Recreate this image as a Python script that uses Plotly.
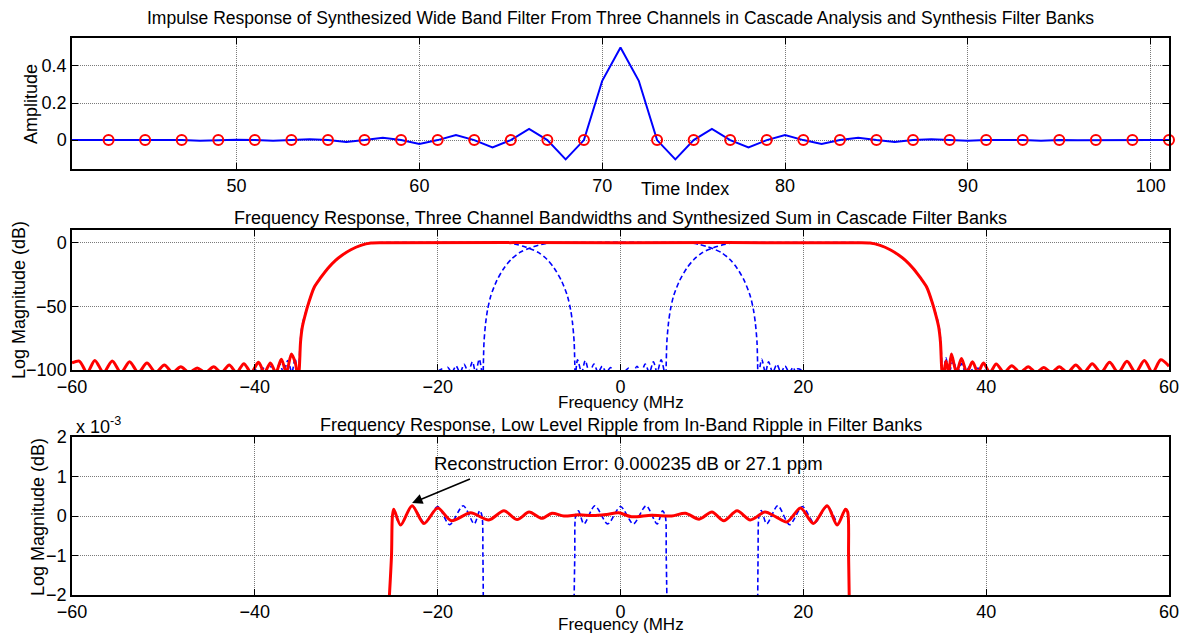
import plotly.graph_objects as go

# ---------------- data ----------------
time_index = list(range(41, 102))
impulse = [
    0.000, 0.000, 0.000, 0.001, 0.000, -0.001, 0.000, -0.004, 0.000, 0.002,   # 41-50
    0.000, -0.004, 0.000, 0.005, 0.000, -0.010, 0.000, 0.013, 0.000, -0.021,  # 51-60
    0.000, 0.027, 0.000, -0.040, 0.000, 0.060, 0.000, -0.104, 0.000, 0.320,   # 61-70
    0.500,                                                                     # 71
    0.320, 0.000, -0.104, 0.000, 0.060, 0.000, -0.040, 0.000, 0.027, 0.000,   # 72-81
    -0.021, 0.000, 0.013, 0.000, -0.010, 0.000, 0.005, 0.000, -0.004, 0.000,  # 82-91
    0.002, 0.000, -0.004, 0.000, -0.001, 0.000, 0.001, 0.000, 0.000, 0.000,   # 92-101
]
zero_marks_idx = [i for i in time_index if i % 2 == 1 and i >= 43 and i != 71]

# synthesized sum (red), middle panel
sum_freq = [
    -60.0, -59.2, -58.35, -57.5, -56.55, -55.6, -54.65, -53.7, -52.75, -51.8, -50.85, -49.9,
    -49.0, -48.1, -47.2, -46.3, -45.4, -44.5, -43.65, -42.8, -42.0, -41.2, -40.4, -39.6,
    -38.95, -38.3, -37.7, -37.1, -36.55, -36.0, -35.55, -35.3,
    -35.15, -35.0, -34.8, -34.5, -34.1, -33.5, -32.8, -32.0, -31.2, -30.5, -29.5, -28.4, -27.3, -26.0,
    0.0,
    26.0, 27.3, 28.4, 29.5, 30.5, 31.2, 32.0, 32.8, 33.5, 34.1, 34.5, 34.8, 35.0, 35.15,
    35.3, 35.6, 35.9, 36.2, 36.75, 37.3, 37.9, 38.5, 39.1, 39.7, 40.4, 41.1, 41.95, 42.8,
    43.7, 44.6, 45.45, 46.3, 47.15, 48.0, 48.9, 49.8, 50.7, 51.6, 52.55, 53.5, 54.45, 55.4,
    56.35, 57.3, 58.2, 59.1, 60.0,
]
sum_db = [
    -94.5, -93.0, -102, -92.5, -102, -93.0, -102, -93.5, -102, -94.5, -102, -96.0,
    -102, -97.5, -102, -98.5, -102, -97.5, -102, -96.0, -102, -95.0, -102, -94.0,
    -102, -94.5, -102, -91.5, -102, -87.5, -95.0, -106,
    -100, -78, -66, -57, -47, -35, -27.5, -20, -14, -10, -5.5, -2.1, -0.3, 0.0,
    0.0,
    0.0, -0.3, -2.1, -5.5, -10, -14, -20, -27.5, -35, -47, -57, -66, -78, -100,
    -106, -93.0, -102, -87.5, -102, -91.0, -102, -93.5, -102, -94.5, -102, -95.3, -102, -96.6,
    -102, -97.4, -102, -98.0, -102, -97.4, -102, -96.0, -102, -95.0, -102, -94.0, -102, -93.2,
    -102, -92.6, -102, -92.0, -97.0,
]

# channel A (centre -20 MHz)
chA_freq = [
    -40.0, -39.55, -39.1, -38.65, -38.2, -37.75, -37.3, -36.85, -36.4, -35.95, -35.6, -35.3,
    -35.15, -35.05, -34.85, -34.5, -34.1, -33.5, -32.8, -32.0, -31.2, -30.5, -29.5, -28.4, -27.3, -26.5,
    -12.95, -12.05, -11.35, -10.55, -9.95, -8.95, -8.05, -7.25, -6.45, -5.8, -5.45, -5.25, -5.07, -5.0, -4.95,
    -4.7, -4.25, -3.86, -3.4, -2.9, -2.45, -2.0, -1.55, -1.1, -0.7, -0.5,
]
chA_db = [
    -99.0, -102, -98.5, -102, -97.0, -102, -95.0, -102, -92.5, -102, -90.5, -106,
    -95, -80, -66, -56, -47, -35, -27.5, -20, -14, -10, -5.5, -2.1, -0.3, 0.0,
    0.0, -0.4, -1.4, -3.0, -4.5, -7.8, -13, -20, -30, -42, -53, -63, -78, -95, -106,
    -92.0, -102, -92.6, -102, -95.3, -102, -97.0, -102, -98.0, -102, -101,
]

# channel B (centre 0 MHz)
chB_freq = [
    -20.0, -19.4, -19.15, -18.9, -18.45, -18.0, -17.55, -17.1, -16.65, -16.2, -15.85, -15.45, -15.05,
    -15.0, -14.93, -14.75, -14.55, -14.2, -13.55, -12.75, -11.95, -11.05, -10.05, -9.45, -8.65, -7.95, -7.05,
    7.05, 7.95, 8.65, 9.45, 10.05, 11.05, 11.95, 12.75, 13.55, 14.2, 14.55, 14.75, 14.93, 15.0,
    15.05, 15.45, 15.85, 16.2, 16.65, 17.1, 17.55, 18.0, 18.45, 18.9, 19.15, 19.4, 20.0,
]
chB_db = [
    -101, -99.0, -102, -97.8, -102, -96.8, -102, -95.5, -102, -93.5, -102, -91.5, -106,
    -95, -78, -63, -53, -42, -30, -20, -13, -7.8, -4.5, -3.0, -1.4, -0.4, 0.0,
    0.0, -0.4, -1.4, -3.0, -4.5, -7.8, -13, -20, -30, -42, -53, -63, -78, -95,
    -106, -91.5, -102, -93.5, -102, -95.5, -102, -96.8, -102, -97.8, -102, -99.0, -101,
]

# channel C (centre +20 MHz)
chC_freq = [
    0.5, 0.9, 1.35, 1.8, 2.25, 2.7, 3.15, 3.6, 4.0, 4.45, 4.95,
    5.0, 5.07, 5.25, 5.45, 5.8, 6.45, 7.25, 8.05, 8.95, 9.95, 10.55, 11.35, 12.05, 12.95,
    26.5, 27.3, 28.4, 29.5, 30.5, 31.2, 32.0, 32.8, 33.5, 34.1, 34.5, 34.85, 35.05, 35.15, 35.3,
    35.6, 35.95, 36.4, 36.85, 37.3, 37.75, 38.2, 38.65, 39.1, 39.55, 40.0,
]
chC_db = [
    -101, -98.5, -102, -97.0, -102, -95.3, -102, -93.5, -102, -92.0, -106,
    -95, -78, -63, -53, -42, -30, -20, -13, -7.8, -4.5, -3.0, -1.4, -0.4, 0.0,
    0.0, -0.3, -2.1, -5.5, -10, -14, -20, -27.5, -35, -47, -56, -66, -80, -95, -106,
    -90.5, -102, -92.5, -102, -95.0, -102, -97.0, -102, -98.5, -102, -99.0,
]

# bottom panel: ripple (units of 1e-3 dB)
ripple_freq = [
    -25.4, -25.05, -24.95, -24.8, -24.05, -22.8, -21.5, -20.0, -18.5, -16.4, -14.4, -12.75,
    -11.3, -10.0, -8.6, -7.5, -6.2, -4.6, -3.0, -1.5, -0.2, 1.2, 3.4, 5.6, 7.1, 8.6, 10.0,
    11.3, 12.75, 14.2, 15.8, 17.0, 18.2, 19.7, 21.1, 22.6, 23.7, 24.6, 24.85, 24.95, 25.05,
]
ripple_sum = [
    -2.5, -1.0, 0.0, 0.17, -0.23, 0.26, -0.19, 0.20, -0.12, 0.08, -0.10, 0.13,
    -0.09, 0.10, -0.06, 0.07, 0.00, 0.03, 0.01, 0.04, 0.08, -0.02, 0.02, 0.00, 0.07, -0.08, 0.10,
    -0.12, 0.13, -0.10, 0.10, -0.02, -0.15, 0.20, -0.19, 0.26, -0.23, 0.17, 0.10, -1.0, -2.5,
]
ripple_ch1_freq = [-24.8, -24.05, -22.8, -21.4, -20.0, -18.7, -17.2, -16.0, -15.4, -15.15, -15.05, -15.0]
ripple_ch1 = [0.17, -0.23, 0.26, -0.18, 0.24, -0.22, 0.26, -0.20, 0.14, 0.0, -1.0, -2.5]
ripple_ch2_freq = [-5.1, -5.0, -4.9, -4.6, -4.0, -2.8, -1.4, 0.0, 1.4, 2.8, 4.0, 4.6, 4.9, 5.0, 5.1]
ripple_ch2 = [-2.5, -1.0, 0.0, 0.13, -0.20, 0.26, -0.20, 0.24, -0.20, 0.26, -0.20, 0.13, 0.0, -1.0, -2.5]
ripple_ch3_freq = [15.0, 15.05, 15.15, 15.4, 16.0, 17.2, 18.5, 19.9, 21.2, 22.6, 23.7]
ripple_ch3 = [-2.5, -1.0, 0.0, 0.14, -0.20, 0.26, -0.22, 0.24, -0.18, 0.24, -0.20]

freq_ticks = [-60, -40, -20, 0, 20, 40, 60]
time_ticks = [50, 60, 70, 80, 90, 100]

# ---------------- layout helpers ----------------
W, H = 1186, 634
FONT = "Liberation Sans, Arial, sans-serif"
RED = "#ff0000"
BLUE = "#0000ff"
DASH = "5px,3px"


def px(p):
    return p / W


def py(p):
    return 1 - p / H


X0, X1 = 72, 1169
panels = {
    "top": (38, 169),
    "mid": (230, 370),
    "bot": (437, 595),
}

fig = go.Figure()

# top panel
fig.add_trace(go.Scatter(x=time_index, y=impulse, mode="lines",
                         line=dict(color=BLUE, width=2), xaxis="x", yaxis="y",
                         showlegend=False, hoverinfo="skip"))
fig.add_trace(go.Scatter(x=zero_marks_idx,
                         y=[impulse[time_index.index(i)] for i in zero_marks_idx],
                         mode="markers",
                         marker=dict(symbol="circle-open", size=10, color=RED,
                                     line=dict(width=2, color=RED)),
                         xaxis="x", yaxis="y", showlegend=False, hoverinfo="skip",
                         cliponaxis=False))

# middle panel
for fx, fy in [(chA_freq, chA_db), (chB_freq, chB_db), (chC_freq, chC_db)]:
    fig.add_trace(go.Scatter(x=fx, y=fy, mode="lines",
                             line=dict(color=BLUE, width=1.6, dash=DASH, shape="spline", smoothing=0.8),
                             xaxis="x2", yaxis="y2", showlegend=False, hoverinfo="skip"))
fig.add_trace(go.Scatter(x=sum_freq, y=sum_db, mode="lines",
                         line=dict(color=RED, width=3, shape="spline", smoothing=0.8),
                         xaxis="x2", yaxis="y2", showlegend=False, hoverinfo="skip"))

# bottom panel
for fx, fy in [(ripple_ch1_freq, ripple_ch1), (ripple_ch2_freq, ripple_ch2), (ripple_ch3_freq, ripple_ch3)]:
    fig.add_trace(go.Scatter(x=fx, y=fy, mode="lines",
                             line=dict(color=BLUE, width=1.6, dash=DASH, shape="spline", smoothing=0.8),
                             xaxis="x3", yaxis="y3", showlegend=False, hoverinfo="skip"))
fig.add_trace(go.Scatter(x=ripple_freq, y=ripple_sum, mode="lines",
                         line=dict(color=RED, width=3, shape="spline", smoothing=0.8),
                         xaxis="x3", yaxis="y3", showlegend=False, hoverinfo="skip"))

axis_common = dict(
    showline=True, linecolor="black", linewidth=1.5, mirror="ticks",
    ticks="inside", ticklen=6, tickcolor="black", tickwidth=1,
    showgrid=True, gridcolor="#7a7a7a", gridwidth=1, griddash="1px,1px",
    zeroline=False, automargin=False,
    tickfont=dict(family=FONT, size=18, color="black"),
)


def ydom(key):
    t, b = panels[key]
    return [py(b), py(t)]


layout = dict(
    width=W, height=H,
    margin=dict(l=0, r=0, t=0, b=0),
    paper_bgcolor="white", plot_bgcolor="white",
    font=dict(family=FONT, size=18, color="black"),
    showlegend=False,
    xaxis=dict(axis_common, domain=[px(X0), px(X1)], anchor="y", range=[41, 101],
               tickvals=time_ticks),
    yaxis=dict(axis_common, domain=ydom("top"), anchor="x", range=[-0.156, 0.551],
               tickvals=[0, 0.2, 0.4], ticktext=["0", "0.2", "0.4"]),
    xaxis2=dict(axis_common, domain=[px(X0), px(X1)], anchor="y2", range=[-60, 60],
                tickvals=freq_ticks),
    yaxis2=dict(axis_common, domain=ydom("mid"), anchor="x2", range=[-100, 10],
                tickvals=[-100, -50, 0]),
    xaxis3=dict(axis_common, domain=[px(X0), px(X1)], anchor="y3", range=[-60, 60],
                tickvals=freq_ticks),
    yaxis3=dict(axis_common, domain=ydom("bot"), anchor="x3", range=[-2, 2],
                tickvals=[-2, -1, 0, 1, 2]),
)
fig.update_layout(**layout)

cx = px((X0 + X1) / 2)
ann = []


def text(x, y, s, size=18, angle=0, xanchor="center"):
    ann.append(dict(x=x, y=y, xref="paper", yref="paper", text=s, showarrow=False,
                    font=dict(family=FONT, size=size, color="black"), textangle=angle,
                    xanchor=xanchor, yanchor="middle"))


text(cx, py(18), "Impulse Response of Synthesized Wide Band Filter From Three Channels in Cascade Analysis and Synthesis Filter Banks", size=17.5)
text(cx, py(218), "Frequency Response, Three Channel Bandwidths and Synthesized Sum in Cascade Filter Banks", size=18)
text(cx, py(425), "Frequency Response, Low Level Ripple from In-Band Ripple in Filter Banks", size=18)
text(px(685), py(189), "Time Index")
text(cx, py(402), "Frequency (MHz", size=17)
text(cx, py(624), "Frequency (MHz", size=17)
text(px(31), py(104), "Amplitude", angle=-90)
text(px(19), py(300), "Log Magnitude (dB)", angle=-90)
text(px(38), py(517), "Log Magnitude (dB)", angle=-90)
text(px(74), py(425), "x 10<sup>-3</sup>", xanchor="left")

# reconstruction error annotation
ann.append(dict(x=-22.8, y=0.33, xref="x3", yref="y3", ax=-16.3, ay=0.95, axref="x3", ayref="y3",
                text="", showarrow=True, arrowhead=2, arrowsize=1.3, arrowwidth=1.6, arrowcolor="black"))
ann.append(dict(x=-20.6, y=1.33, xref="x3", yref="y3", text="Reconstruction Error: 0.000235 dB or 27.1 ppm",
                showarrow=False, xanchor="left", yanchor="middle",
                font=dict(family=FONT, size=18.5, color="black")))
fig.update_layout(annotations=ann)

fig.write_html("out.html")
